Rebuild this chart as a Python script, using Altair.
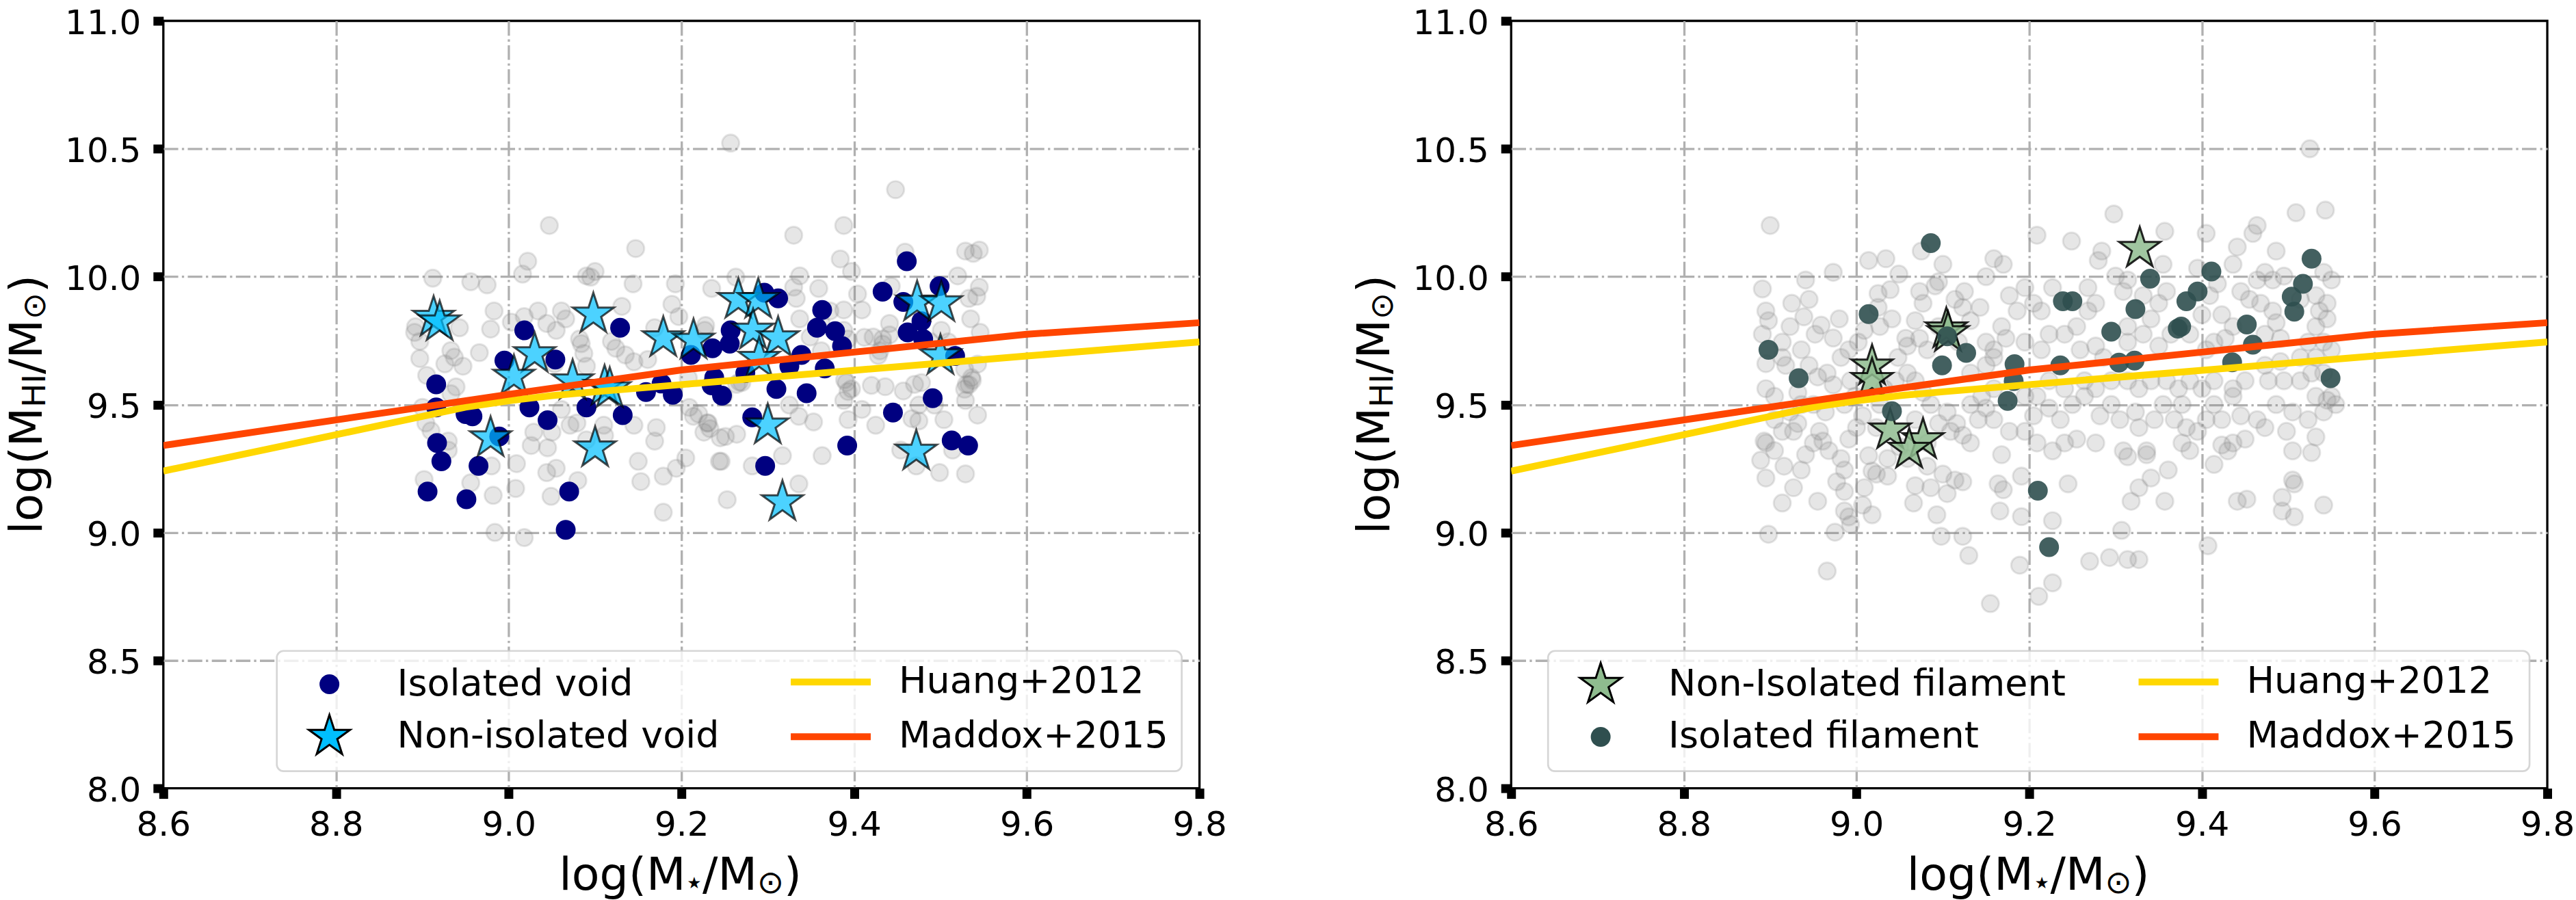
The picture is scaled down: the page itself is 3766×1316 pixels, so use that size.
import math
import altair as alt
import pandas as pd

FONT = "DejaVu Sans"

# ---------------------------------------------------------------- data
X_TICKS = [8.6, 8.8, 9.0, 9.2, 9.4, 9.6, 9.8]
Y_TICKS = [8.0, 8.5, 9.0, 9.5, 10.0, 10.5, 11.0]

HUANG_LABEL = "Huang+2012"
MADDOX_LABEL = "Maddox+2015"
huang_x = [8.6, 8.8, 8.95, 9.0, 9.05, 9.1, 9.2, 9.4, 9.6, 9.8]
huang_y = [9.24, 9.382, 9.49, 9.515, 9.535, 9.55, 9.578, 9.634, 9.69, 9.745]
maddox_x = [8.6, 9.0, 9.2, 9.4, 9.6, 9.8]
maddox_y = [9.34, 9.54, 9.635, 9.705, 9.775, 9.82]

# left panel
VOID_ISO_LABEL = "Isolated void"
VOID_NON_LABEL = "Non-isolated void"
void_iso = [(9.018, 9.79), (9.129, 9.80), (8.995, 9.672), (9.054, 9.676), (8.916, 9.579),
            (9.211, 9.694), (9.236, 9.72), (9.257, 9.79), (9.256, 9.738), (9.461, 10.06),
            (9.433, 9.941), (9.499, 9.963), (9.457, 9.901), (9.478, 9.826), (9.462, 9.782),
            (9.48, 9.756), (9.517, 9.69), (9.363, 9.87), (9.357, 9.80), (9.378, 9.787),
            (9.386, 9.729), (9.312, 9.915), (9.296, 9.937), (9.339, 9.694), (9.325, 9.65),
            (9.366, 9.641), (9.274, 9.623), (9.238, 9.605), (9.31, 9.561), (9.345, 9.544),
            (9.491, 9.525), (9.247, 9.535), (8.916, 9.489), (8.95, 9.463), (8.958, 9.454),
            (8.917, 9.35), (8.922, 9.278), (8.965, 9.26), (8.906, 9.16), (8.951, 9.13),
            (9.024, 9.489), (9.045, 9.439), (9.09, 9.489), (9.132, 9.459), (9.07, 9.16),
            (9.066, 9.01), (8.989, 9.375), (9.159, 9.549), (9.19, 9.538), (9.177, 9.582),
            (9.282, 9.45), (9.297, 9.26), (9.392, 9.34), (9.445, 9.469), (9.513, 9.36),
            (9.532, 9.34), (9.235, 9.575)]
void_non = [(8.913, 9.84), (8.92, 9.822), (9.098, 9.853), (9.266, 9.91), (9.179, 9.76),
            (9.214, 9.751), (9.03, 9.698), (9.006, 9.61), (9.074, 9.592), (9.111, 9.57),
            (9.117, 9.561), (9.289, 9.91), (9.473, 9.90), (9.501, 9.897), (9.283, 9.79),
            (9.312, 9.76), (9.50, 9.69), (9.29, 9.68), (8.979, 9.369), (9.10, 9.33),
            (9.30, 9.419), (9.317, 9.119), (9.472, 9.317)]
void_bg = [(9.257, 10.522), (9.047, 10.20), (9.147, 10.11), (9.022, 10.06), (9.016, 10.01),
           (8.912, 9.994), (8.956, 9.98), (8.975, 9.968), (9.090, 10.003), (9.100, 10.02),
           (9.095, 9.998), (9.144, 9.972), (9.193, 9.972), (9.235, 9.954), (9.263, 9.998),
           (9.131, 9.884), (9.189, 9.892), (9.197, 9.844), (8.983, 9.866), (9.018, 9.844),
           (9.034, 9.866), (9.061, 9.866), (9.066, 9.835), (9.003, 9.822), (8.892, 9.804),
           (8.891, 9.782), (8.897, 9.747), (8.943, 9.80), (8.979, 9.795), (9.044, 9.817),
           (9.055, 9.79), (9.082, 9.756), (9.084, 9.738), (9.119, 9.747), (9.124, 9.72),
           (9.135, 9.694), (9.169, 9.80), (9.161, 9.676), (9.145, 9.667), (9.227, 9.79),
           (8.933, 9.711), (8.937, 9.685), (8.897, 9.68), (8.966, 9.703), (8.926, 9.659),
           (8.947, 9.65), (8.905, 9.614), (9.053, 9.659), (9.090, 9.65), (9.267, 9.588),
           (9.448, 10.34), (9.330, 10.162), (9.388, 10.20), (9.384, 10.069), (9.397, 10.02),
           (9.459, 10.096), (9.529, 10.10), (9.538, 10.091), (9.545, 10.104), (9.337, 10.003),
           (9.330, 9.959), (9.359, 9.954), (9.333, 9.915), (9.404, 9.932), (9.443, 9.963),
           (9.52, 10.003), (9.545, 9.959), (9.533, 9.915), (9.542, 9.923), (9.388, 9.87),
           (9.409, 9.87), (9.337, 9.835), (9.372, 9.866), (9.362, 9.817), (9.422, 9.764),
           (9.433, 9.756), (9.441, 9.817), (9.488, 9.747), (9.535, 9.835), (9.546, 9.782),
           (9.543, 9.658), (9.388, 9.79), (9.393, 9.756), (9.349, 9.764), (9.501, 9.79),
           (9.43, 9.71), (9.42, 9.575), (9.436, 9.57), (9.457, 9.553), (9.47, 9.579),
           (9.53, 9.579), (9.536, 9.605), (9.389, 9.597), (9.397, 9.561), (9.264, 9.579),
           (9.228, 9.809), (8.939, 9.569), (8.933, 9.542), (8.90, 9.489), (8.904, 9.428),
           (8.91, 9.397), (8.93, 9.357), (8.93, 9.322), (8.902, 9.207), (8.956, 9.194),
           (8.98, 9.26), (8.982, 9.145), (9.009, 9.269), (9.008, 9.172), (8.984, 9.0),
           (9.018, 8.98), (9.029, 9.392), (9.026, 9.34), (9.045, 9.331), (9.05, 9.392),
           (9.044, 9.234), (9.055, 9.251), (9.049, 9.141), (9.08, 9.203), (9.071, 9.419),
           (9.079, 9.428), (9.09, 9.362), (9.11, 9.419), (9.111, 9.379), (9.061, 9.481),
           (9.145, 9.419), (9.15, 9.278), (9.153, 9.199), (9.169, 9.357), (9.171, 9.41),
           (9.179, 9.079), (9.179, 9.22), (9.194, 9.251), (9.205, 9.291), (9.214, 9.454),
           (9.23, 9.428), (9.226, 9.392), (9.245, 9.37), (9.244, 9.278), (9.253, 9.128),
           (9.264, 9.384), (9.282, 9.26), (9.087, 9.70), (9.208, 9.604), (9.209, 9.489),
           (9.22, 9.463), (9.231, 9.428), (9.233, 9.406), (9.251, 9.375), (9.246, 9.278),
           (9.317, 9.30), (9.336, 9.19), (9.363, 9.30), (9.353, 9.432), (9.336, 9.454),
           (9.325, 9.498), (9.393, 9.441), (9.425, 9.419), (9.409, 9.481), (9.388, 9.516),
           (9.393, 9.551), (9.391, 9.586), (9.478, 9.586), (9.467, 9.445), (9.475, 9.436),
           (9.504, 9.441), (9.475, 9.498), (9.493, 9.498), (9.543, 9.459), (9.529, 9.516),
           (9.533, 9.578), (9.537, 9.595), (9.528, 9.56), (9.528, 9.639), (9.514, 9.322),
           (9.454, 9.322), (9.472, 9.26), (9.499, 9.234), (9.529, 9.229), (9.428, 9.692),
           (9.441, 9.772), (9.433, 9.736), (9.412, 9.763), (9.362, 9.71), (9.27, 9.586),
           (9.249, 9.534), (9.509, 9.745)]

# right panel
FIL_NON_LABEL = "Non-Isolated filament"
FIL_ISO_LABEL = "Isolated filament"
fil_non = [(9.328, 10.11), (9.104, 9.795), (9.106, 9.78), (9.018, 9.65), (9.018, 9.597),
           (9.039, 9.40), (9.077, 9.362), (9.061, 9.324)]
fil_iso = [(9.086, 10.131), (9.014, 9.854), (8.898, 9.714), (8.933, 9.603), (9.105, 9.767),
           (9.127, 9.702), (9.099, 9.653), (9.183, 9.658), (9.182, 9.592), (9.175, 9.514),
           (9.041, 9.474), (9.21, 9.163), (9.223, 8.943), (9.239, 9.904), (9.25, 9.904),
           (9.236, 9.653), (9.295, 9.785), (9.323, 9.873), (9.34, 9.992), (9.304, 9.664),
           (9.322, 9.672), (9.382, 9.904), (9.395, 9.942), (9.372, 9.797), (9.376, 9.805),
           (9.411, 10.02), (9.435, 9.665), (9.452, 9.813), (9.459, 9.734), (9.504, 9.922),
           (9.507, 9.863), (9.517, 9.972), (9.527, 10.07), (9.549, 9.603)]
fil_bg = [(9.525, 10.50), (8.90, 10.20), (9.298, 10.245), (9.509, 10.25), (9.543, 10.26),
          (9.209, 10.162), (9.249, 10.139), (9.357, 10.177), (9.405, 10.169), (9.464, 10.20),
          (9.459, 10.169), (9.441, 10.116), (9.486, 10.10), (9.284, 10.10), (9.28, 10.063),
          (9.159, 10.07), (9.17, 10.048), (9.15, 10.0), (9.10, 10.048), (9.075, 10.10),
          (9.014, 10.063), (9.034, 10.07), (9.049, 10.01), (8.973, 10.017), (8.941, 9.987),
          (8.891, 9.952), (8.925, 9.896), (8.945, 9.911), (8.939, 9.843), (8.895, 9.866),
          (8.898, 9.828), (8.959, 9.81), (8.98, 9.835), (8.973, 9.76), (8.952, 9.775),
          (8.891, 9.775), (8.914, 9.684), (8.918, 9.653), (8.895, 9.66), (8.895, 9.562),
          (8.905, 9.532), (8.923, 9.471), (8.932, 9.426), (8.927, 9.395), (8.893, 9.357),
          (8.895, 9.35), (8.905, 9.32), (8.889, 9.282), (8.916, 9.259), (8.895, 9.213),
          (8.914, 9.115), (8.927, 9.175), (8.955, 9.122), (8.966, 8.849), (8.898, 8.993),
          (8.955, 9.608), (8.966, 9.623), (8.973, 9.577), (8.95, 9.50), (8.964, 9.471),
          (8.957, 9.395), (8.95, 9.35), (8.961, 9.357), (8.968, 9.32), (8.982, 9.289),
          (8.986, 9.244), (8.977, 9.198), (8.986, 9.16), (8.991, 9.061), (8.993, 9.031),
          (8.975, 9.001), (8.986, 9.084), (9.007, 9.107), (9.018, 9.069), (9.009, 9.175),
          (9.023, 9.228), (9.036, 9.22), (9.014, 9.30), (9.018, 9.24), (8.991, 9.365),
          (9.0, 9.41), (9.007, 9.456), (8.986, 9.50), (8.998, 9.532), (8.993, 9.593),
          (8.982, 9.684), (8.991, 9.714), (9.002, 9.744), (9.009, 9.79), (9.027, 9.805),
          (9.041, 9.835), (9.025, 9.934), (9.039, 9.949), (9.025, 9.88), (9.057, 9.759),
          (9.059, 9.729), (9.048, 9.684), (9.073, 9.942), (9.077, 9.896), (9.091, 9.964),
          (9.095, 9.98), (9.114, 9.911), (9.125, 9.942), (9.123, 9.88), (9.143, 9.88),
          (9.132, 9.828), (9.068, 9.828), (9.073, 9.759), (9.082, 9.714), (9.059, 9.623),
          (9.068, 9.593), (9.077, 9.547), (9.086, 9.50), (9.105, 9.471), (9.116, 9.426),
          (9.123, 9.38), (9.132, 9.35), (9.095, 9.426), (9.109, 9.395), (9.059, 9.289),
          (9.082, 9.259), (9.10, 9.228), (9.114, 9.205), (9.123, 9.198), (9.105, 9.152),
          (9.068, 9.183), (9.086, 9.175), (9.066, 9.115), (9.093, 9.069), (9.098, 8.985),
          (9.123, 8.985), (9.13, 8.91), (9.166, 9.084), (9.191, 9.062), (9.189, 8.872),
          (9.155, 8.722), (9.211, 8.75), (9.227, 8.803), (9.227, 9.046), (9.164, 9.19),
          (9.17, 9.167), (9.191, 9.22), (9.168, 9.304), (9.245, 9.19), (9.27, 8.887),
          (9.293, 8.902), (9.314, 8.894), (9.327, 8.894), (9.307, 9.008), (9.318, 9.122),
          (9.327, 9.175), (9.341, 9.213), (9.357, 9.122), (9.361, 9.244), (9.407, 8.948),
          (9.441, 9.122), (9.452, 9.13), (9.493, 9.084), (9.507, 9.061), (9.541, 9.107),
          (9.505, 9.205), (9.507, 9.19), (9.493, 9.137), (9.527, 9.312), (9.532, 9.373),
          (9.505, 9.319), (9.498, 9.395), (9.414, 9.266), (9.43, 9.319), (9.423, 9.342),
          (9.336, 9.319), (9.336, 9.304), (9.309, 9.319), (9.314, 9.296), (9.277, 9.35),
          (9.241, 9.35), (9.255, 9.365), (9.227, 9.319), (9.209, 9.35), (9.195, 9.395),
          (9.177, 9.395), (9.159, 9.441), (9.141, 9.441), (9.132, 9.50), (9.15, 9.486),
          (9.205, 9.456), (9.223, 9.486), (9.236, 9.441), (9.25, 9.50), (9.264, 9.532),
          (9.282, 9.456), (9.295, 9.50), (9.305, 9.441), (9.323, 9.471), (9.327, 9.41),
          (9.345, 9.441), (9.355, 9.50), (9.377, 9.50), (9.368, 9.441), (9.382, 9.41),
          (9.395, 9.395), (9.405, 9.441), (9.423, 9.441), (9.445, 9.456), (9.464, 9.441),
          (9.473, 9.41), (9.414, 9.50), (9.436, 9.532), (9.486, 9.50), (9.505, 9.471),
          (9.523, 9.441), (9.541, 9.471), (9.532, 9.532), (9.545, 9.517), (9.495, 9.593),
          (9.514, 9.593), (9.527, 9.623), (9.541, 9.623), (9.473, 9.653), (9.491, 9.668),
          (9.477, 9.593), (9.45, 9.593), (9.436, 9.562), (9.414, 9.593), (9.40, 9.562),
          (9.386, 9.593), (9.373, 9.562), (9.359, 9.593), (9.341, 9.593), (9.327, 9.562),
          (9.314, 9.593), (9.295, 9.593), (9.277, 9.562), (9.264, 9.593), (9.241, 9.562),
          (9.223, 9.593), (9.209, 9.532), (9.195, 9.532), (9.159, 9.562), (9.145, 9.532),
          (9.15, 9.653), (9.132, 9.623), (9.159, 9.684), (9.15, 9.744), (9.173, 9.759),
          (9.168, 9.805), (9.159, 9.714), (9.186, 9.866), (9.177, 9.926), (9.195, 9.957),
          (9.205, 9.896), (9.214, 9.866), (9.227, 9.957), (9.223, 9.775), (9.195, 9.744),
          (9.214, 9.714), (9.241, 9.775), (9.255, 9.805), (9.268, 9.866), (9.277, 9.896),
          (9.268, 9.957), (9.259, 9.714), (9.277, 9.729), (9.286, 9.684), (9.309, 9.942),
          (9.30, 10.002), (9.314, 9.987), (9.332, 9.926), (9.35, 9.896), (9.359, 9.942),
          (9.341, 9.835), (9.332, 9.775), (9.314, 9.805), (9.314, 9.744), (9.35, 9.729),
          (9.364, 9.775), (9.386, 9.775), (9.355, 10.048), (9.395, 10.033), (9.418, 9.972),
          (9.409, 9.926), (9.40, 9.851), (9.423, 9.851), (9.436, 9.805), (9.414, 9.744),
          (9.427, 9.759), (9.405, 9.714), (9.445, 9.942), (9.455, 9.911), (9.436, 10.048),
          (9.464, 9.987), (9.473, 10.017), (9.482, 9.987), (9.468, 9.896), (9.482, 9.866),
          (9.486, 9.82), (9.473, 9.775), (9.491, 9.759), (9.495, 10.002), (9.514, 9.911),
          (9.532, 9.926), (9.541, 10.017), (9.55, 9.987), (9.545, 9.896), (9.536, 9.866),
          (9.545, 9.835), (9.532, 9.805), (9.523, 9.744), (9.541, 9.744), (9.55, 9.714),
          (9.514, 9.684), (9.532, 9.684), (9.55, 9.532), (9.555, 9.50), (9.436, 9.35),
          (9.45, 9.365), (9.377, 9.35), (9.386, 9.32), (9.095, 9.805), (9.118, 9.744),
          (9.032, 9.562), (9.045, 9.593), (9.027, 9.50), (9.023, 9.41), (9.068, 9.441),
          (9.082, 9.35), (9.05, 9.335), (9.036, 9.289), (8.936, 9.714), (8.945, 9.653),
          (8.923, 9.805), (8.914, 9.744), (8.932, 9.547), (8.936, 9.50), (8.905, 9.441),
          (8.914, 9.395), (8.941, 9.304), (8.936, 9.244)]


# ---------------------------------------------------------------- styling
def star_path(inner=0.382):
    pts = []
    for k in range(10):
        a = math.radians(-90 + 36 * k)
        r = 1.0 if k % 2 == 0 else inner
        pts.append(f"{r * math.cos(a):.4f},{r * math.sin(a):.4f}")
    return "M" + "L".join(pts) + "Z"


STAR = star_path()
W, H = 1516, 1123
ONE = pd.DataFrame({"k": [0]})
TITLE_FS, SUB_FS = 66.7, 46.7

xs = alt.Scale(domain=[8.6, 9.8], nice=False, zero=False)
ys = alt.Scale(domain=[8.0, 11.0], nice=False, zero=False)

common_axis = dict(title=None, domain=False, tickSize=15, tickWidth=13, tickColor="black",
                   labelFont=FONT, labelFontSize=50, labelColor="black", labelFlush=False,
                   labelOverlap=False, grid=True, gridColor="#b0b0b0", gridWidth=3.3,
                   gridDash=[21.3, 5.3, 3.3, 5.3], format=".1f")
xa = alt.Axis(values=X_TICKS, labelPadding=13.5,
              gridOpacity={"condition": {"test": "datum.value < 8.61 || datum.value > 9.79", "value": 0},
                           "value": 1},
              **common_axis)
ya = alt.Axis(values=Y_TICKS, labelPadding=18, labelOffset=4,
              gridOpacity={"condition": {"test": "datum.value < 8.01 || datum.value > 10.99", "value": 0},
                           "value": 1},
              **common_axis)
X = alt.X("x:Q", scale=xs, axis=xa)
Y = alt.Y("y:Q", scale=ys, axis=ya)


def to_df(pairs, label=None):
    df = pd.DataFrame(pairs, columns=["x", "y"])
    if label is not None:
        df["series"] = label
    return df


def seg(text, x, y, fs, angle=None, align="left"):
    kw = dict(text=text, font=FONT, fontSize=fs, align=align, baseline="alphabetic", color="black")
    if angle is not None:
        kw["angle"] = angle
    return alt.Chart(ONE).mark_text(**kw).encode(x=alt.value(x), y=alt.value(y))


def titles():
    x0, by, sy = 579, 1272, 1277
    xt = [seg("log(M", x0, by, TITLE_FS),
          seg("\u22c6", x0 + 197.6, sy, SUB_FS, align="center"),
          seg("/M", x0 + 209.9, by, TITLE_FS),
          seg("\u2299", x0 + 289.9, sy, SUB_FS),
          seg(")", x0 + 329.0, by, TITLE_FS)]
    bx, sx, y0 = -178, -173, 751
    yt = [seg("log(M", bx, y0, TITLE_FS, 270),
          seg("HI", sx, y0 - 185.3, SUB_FS, 270),
          seg("/M", bx, y0 - 234.2, TITLE_FS, 270),
          seg("\u2299", sx, y0 - 314.2, SUB_FS, 270),
          seg(")", bx, y0 - 353.3, TITLE_FS, 270)]
    return xt + yt


def panel(bg, first, second, labels, fills, strokes, shapes, sizes, sws, fops, star_sop,
          pleg_x, pleg_y, prow, frame_x):
    grey = alt.Chart(to_df(bg)).mark_point(
        shape="circle", filled=True, size=625, fill="grey", fillOpacity=0.2,
        stroke="grey", strokeOpacity=0.2, strokeWidth=3, opacity=1).encode(x=X, y=Y)

    pleg = alt.Legend(title=None, orient="none", legendX=pleg_x, legendY=pleg_y,
                      direction="vertical", padding=0, rowPadding=prow,
                      labelFont=FONT, labelFontSize=54, labelColor="black", labelLimit=3000,
                      labelOffset=65.5, symbolOpacity=1)

    def sc(rng, point=False):
        if point:
            return alt.Scale(type="point", padding=0, domain=labels, range=rng)
        return alt.Scale(domain=labels, range=rng)

    pts_df = pd.concat([to_df(first, labels[0]), to_df(second, labels[1])], ignore_index=True)
    pts = alt.Chart(pts_df).mark_point(filled=True, opacity=1, strokeOpacity=star_sop).encode(
        x=X, y=Y,
        fill=alt.Fill("series:N", scale=sc(fills), legend=pleg),
        stroke=alt.Stroke("series:N", scale=sc(strokes), legend=pleg),
        shape=alt.Shape("series:N", scale=sc(shapes), legend=pleg),
        size=alt.Size("series:N", scale=sc(sizes, True), legend=pleg),
        strokeWidth=alt.StrokeWidth("series:N", scale=sc(sws, True), legend=pleg),
        fillOpacity=alt.FillOpacity("series:N", scale=sc(fops, True), legend=pleg),
    )

    lleg = alt.Legend(title=None, orient="none", legendX=913, legendY=940.5,
                      direction="vertical", padding=0, rowPadding=26, clipHeight=54,
                      symbolType="stroke", symbolSize=13689, symbolStrokeWidth=10,
                      labelFont=FONT, labelFontSize=54, labelColor="black", labelLimit=3000,
                      labelOffset=36, symbolOpacity=1)
    lines_df = pd.concat([
        pd.DataFrame({"x": huang_x, "y": huang_y, "series": HUANG_LABEL}),
        pd.DataFrame({"x": maddox_x, "y": maddox_y, "series": MADDOX_LABEL})], ignore_index=True)
    lines = alt.Chart(lines_df).mark_line(strokeWidth=10, opacity=1, clip=True).encode(
        x=X, y=Y,
        color=alt.Color("series:N", scale=alt.Scale(domain=[HUANG_LABEL, MADDOX_LABEL],
                                                    range=["#ffd700", "#ff4500"]), legend=lleg))

    frame = alt.Chart(ONE).mark_rect(
        cornerRadius=10, fill="white", fillOpacity=0.8, stroke="#cccccc", strokeOpacity=0.8,
        strokeWidth=2.7).encode(x=alt.value(frame_x), x2=alt.value(1490),
                                y=alt.value(922), y2=alt.value(1098))

    return alt.layer(grey, pts, lines, frame, *titles()).properties(width=W, height=H)


left = panel(void_bg, void_iso, void_non, [VOID_ISO_LABEL, VOID_NON_LABEL],
             ["#000080", "#00bfff"], ["#000080", "black"], ["circle", STAR],
             [841, 4000], [0, 3], [1.0, 0.7], 0.7,
             209.5, 943.8, 11, 166)
right = panel(fil_bg, fil_non, fil_iso, [FIL_NON_LABEL, FIL_ISO_LABEL],
              ["#8fbc8f", "#2f4f4f"], ["black", "#2f4f4f"], [STAR, "circle"],
              [4000, 841], [3, 0], [0.85, 0.9], 0.85,
              97.5, 937.8, 17, 54)

indep = dict(fill="independent", stroke="independent", shape="independent", size="independent",
             strokeWidth="independent", fillOpacity="independent", color="independent")
chart = (alt.hconcat(left, right, spacing=456, bounds="flush")
         .resolve_scale(**indep)
         .resolve_legend(**indep)
         .properties(padding={"left": 6, "top": 7, "right": 0, "bottom": 0}, background="white")
         .configure_view(stroke="black", strokeWidth=3.3))

chart.save("out.html", embed_options={"renderer": "svg", "actions": False})
